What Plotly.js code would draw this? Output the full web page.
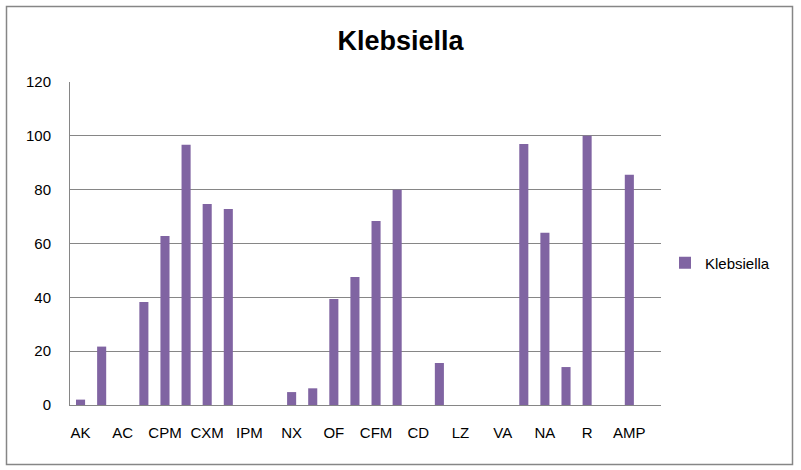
<!DOCTYPE html>
<html>
<head>
<meta charset="utf-8">
<script src="https://cdn.plot.ly/plotly-3.0.1.min.js"></script>
<style>html,body{margin:0;padding:0;background:#fff;}#chart{width:801px;height:470px;}</style>
</head>
<body>
<div id="chart"></div>
<script>
var categories = ["AK","GEN","AC","CAZ","CPM","CTR","CXM","CTX","IPM","MRP","NX","CIP","OF","LE","CFM","COT","CD","E","LZ","TEI","VA","TE","NA","NIT","R","PIT","AMP","CL"];
var values = [2,21.7,0,38.3,62.8,96.7,74.7,72.8,0,0,4.8,6.2,39.4,47.6,68.4,80,0,15.6,0,0,0,97,64,14.1,100,0,85.5,0];
var shownTicks = categories.filter(function(c,i){return i%2===0;});
var seriesName = "Klebsiella";
var chartTitle = "Klebsiella";

var W=801,H=470,L=70,R=140,T=82,B=65;
var pw=W-L-R, ph=H-T-B;
function px(x){return (x-L)/pw;}
function py(y){return (H-B-y)/ph;}

var trace = {
  type:'bar', x:categories, y:values, name:seriesName,
  marker:{color:'#8064A2'}, showlegend:true
};
var layout = {
  width:W, height:H,
  margin:{l:L,r:R,t:T,b:B,pad:0,autoexpand:false},
  paper_bgcolor:'#fff', plot_bgcolor:'#fff',
  bargap:0.57,
  font:{family:'Liberation Sans, Arial, sans-serif', size:15, color:'#000'},
  title:{text:'<b>'+chartTitle+'</b>', font:{family:'Liberation Sans, Arial, sans-serif', size:27, color:'#000'}, x:0.5, xanchor:'center', y:1-41/H, yanchor:'middle'},
  xaxis:{type:'category', tickmode:'array', tickvals:shownTicks, ticktext:shownTicks,
    showline:true, linecolor:'#868686', linewidth:1, showgrid:false, ticks:'', ticklabelstandoff:14, tickangle:0, fixedrange:true},
  yaxis:{range:[0,120], dtick:20, showline:true, linecolor:'#868686', linewidth:1, showgrid:true, gridcolor:'#868686', gridwidth:1,
    zeroline:false, ticks:'', ticklabelstandoff:15, fixedrange:true},
  legend:{x:px(665), y:py(263), xanchor:'left', yanchor:'middle', font:{size:15}, bgcolor:'rgba(0,0,0,0)', itemwidth:30},
  shapes:[{type:'rect', xref:'paper', yref:'paper', x0:px(6.5), x1:px(792.5), y0:py(6.5), y1:py(464.5), line:{color:'#868686', width:1.5}, fillcolor:'rgba(0,0,0,0)', layer:'below'}]
};
Plotly.newPlot('chart',[trace],layout,{displayModeBar:false, staticPlot:true});
</script>
</body>
</html>
